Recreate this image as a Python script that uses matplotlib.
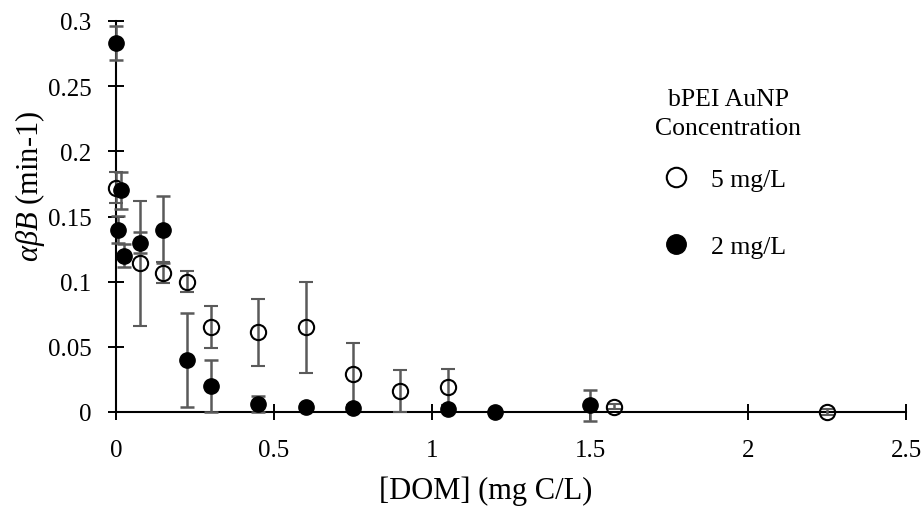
import matplotlib
matplotlib.use("Agg")
import matplotlib.pyplot as plt
from matplotlib.lines import Line2D

plt.rcParams['font.family'] = ['Liberation Serif', 'DejaVu Serif']
plt.rcParams['mathtext.fontset'] = 'custom'
plt.rcParams['mathtext.rm'] = 'Liberation Serif'
plt.rcParams['mathtext.it'] = 'Liberation Serif:italic'

# 5 mg/L (open circles)
x5 = [0, 0.075, 0.15, 0.225, 0.3, 0.45, 0.6, 0.75, 0.9, 1.05, 1.575, 2.25]
y5 = [0.172, 0.114, 0.107, 0.100, 0.065, 0.061, 0.065, 0.029, 0.016, 0.019, 0.004, 0.0]
e5 = [0.012, 0.048, 0.008, 0.008, 0.016, 0.026, 0.035, 0.024, 0.016, 0.014, 0.002, 0.002]

# 2 mg/L (filled circles)
x2 = [0, 0.005, 0.015, 0.025, 0.075, 0.15, 0.225, 0.3, 0.45, 0.6, 0.75, 1.05, 1.2, 1.5]
y2 = [0.283, 0.140, 0.170, 0.120, 0.130, 0.140, 0.040, 0.020, 0.006, 0.004, 0.003, 0.002, 0.0, 0.005]
e2 = [0.013, 0.010, 0.014, 0.009, 0.008, 0.026, 0.036, 0.020, 0.006, 0.002, 0.001, 0.001, 0.0, 0.012]

xticks = [0, 0.5, 1, 1.5, 2, 2.5]
yticks = [0, 0.05, 0.1, 0.15, 0.2, 0.25, 0.3]
xlabels = ['0', '0.5', '1', '1.5', '2', '2.5']
ylabels = ['0', '0.05', '0.1', '0.15', '0.2', '0.25', '0.3']

fig = plt.figure(figsize=(9.24, 5.10), dpi=100)
ax = fig.add_axes([116/924, 1 - 413/510, 790/924, 391/510])

ebc = '#5a5a5a'
h5 = ax.errorbar(x5, y5, yerr=e5, fmt='o', ms=11, mfc='none', mec='black', mew=1.5,
                 ecolor=ebc, elinewidth=1.8, capsize=4.7, capthick=1.8, zorder=3)
h2 = ax.errorbar(x2, y2, yerr=e2, fmt='o', ms=11, mfc='black', mec='black',
                 ecolor=ebc, elinewidth=1.8, capsize=4.7, capthick=1.8, zorder=4)
for h in (h5, h2):
    h.lines[0].set_clip_on(False)
    for art in h.lines[1] + h.lines[2]:
        art.set_clip_on(False)

ax.set_xlim(0, 2.5)
ax.set_ylim(0, 0.3)
ax.set_xticks(xticks)
ax.set_xticklabels(xlabels)
ax.set_yticks(yticks)
ax.set_yticklabels(ylabels)
ax.spines['top'].set_visible(False)
ax.spines['right'].set_visible(False)
ax.spines['left'].set_linewidth(1.5)
ax.spines['bottom'].set_linewidth(1.5)
ax.tick_params(direction='inout', length=11, width=1.4, labelsize=18)
ax.tick_params(axis='y', pad=12)
ax.tick_params(axis='x', pad=14)

fig.text(486/924, 1 - 499/510, '[DOM] (mg C/L)', ha='center', va='baseline', fontsize=22)
fig.text(30/924, 1 - 262/510, r'$\mathit{\alpha\beta B}$ (min-1)', rotation=90,
         ha='center', va='bottom', fontsize=22)

fig.text(728/924, 1 - 106/510, 'bPEI AuNP', ha='center', va='baseline', fontsize=18.5)
fig.text(728/924, 1 - 135/510, 'Concentration', ha='center', va='baseline', fontsize=18.5)
handles = [Line2D([], [], ls='none', marker='o', ms=14, mfc='none', mec='black', mew=1.5),
           Line2D([], [], ls='none', marker='o', ms=14, mfc='black', mec='black')]
ax.legend(handles, ['5 mg/L', '2 mg/L'], loc='upper left',
          bbox_to_anchor=(663/924, 1 - 169/510), bbox_transform=fig.transFigure,
          frameon=False, fontsize=18.5, labelspacing=1.73, handletextpad=0.85,
          handlelength=1.0, borderpad=0, borderaxespad=0)

fig.savefig('out.png', dpi=100)
